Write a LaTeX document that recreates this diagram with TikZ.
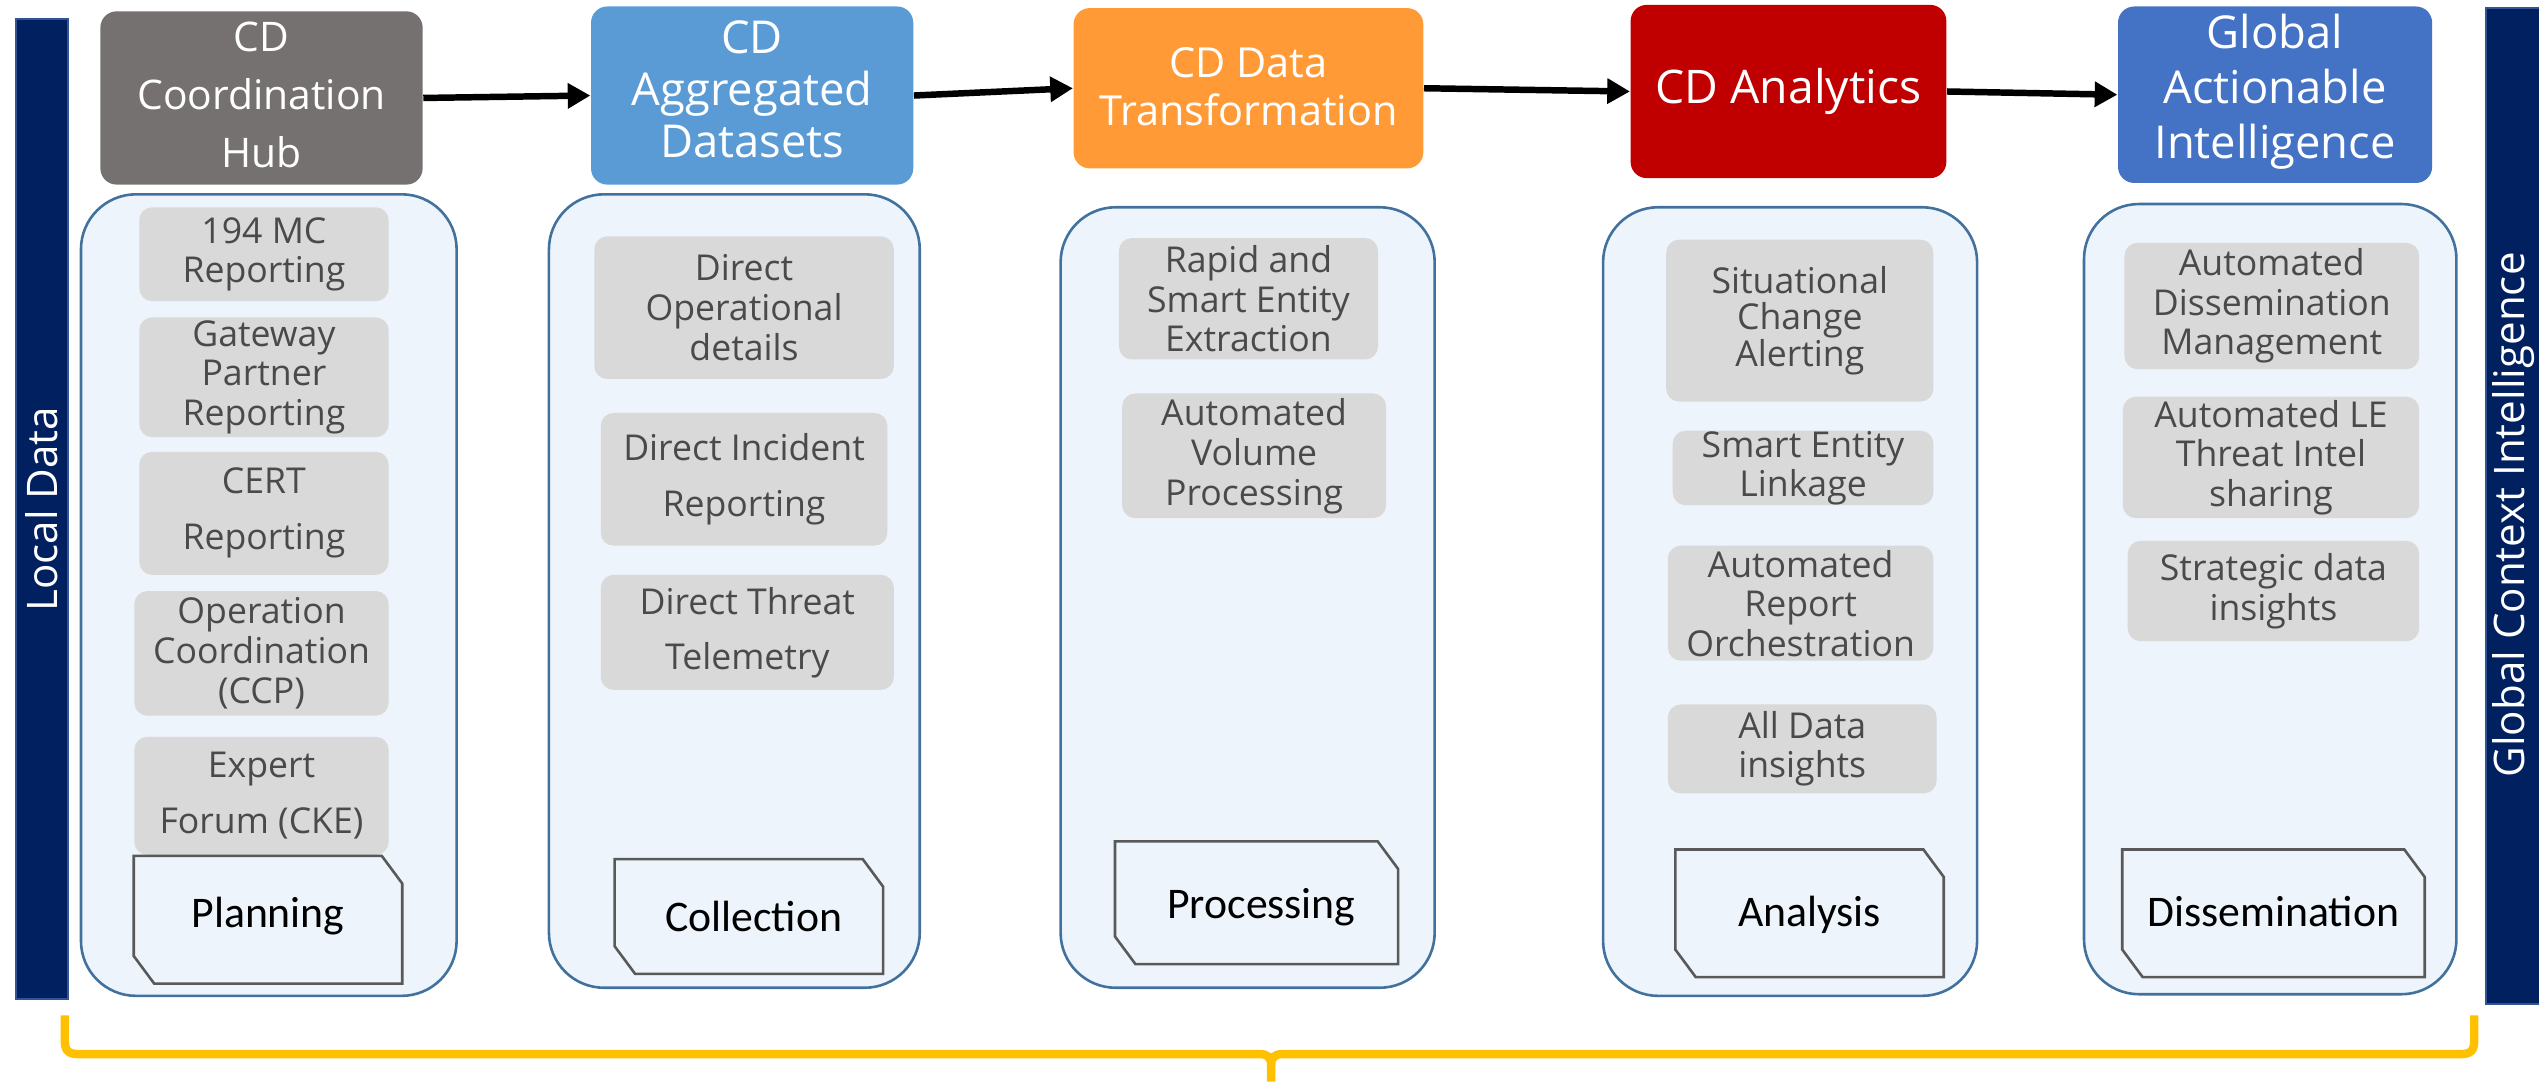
\documentclass[tikz,border=0pt]{standalone}
\usepackage{fontspec}
\setmainfont{Open Sans}
\newfontfamily\calib{Carlito}
\usetikzlibrary{fit,arrows.meta}
\definecolor{navy}{HTML}{002060}
\definecolor{navyedge}{HTML}{2F5597}
\definecolor{hubgray}{HTML}{767171}
\definecolor{aggblue}{HTML}{5B9BD5}
\definecolor{transorange}{HTML}{FF9A36}
\definecolor{anared}{HTML}{C00000}
\definecolor{globblue}{HTML}{4472C4}
\definecolor{contfill}{HTML}{EDF4FB}
\definecolor{contedge}{HTML}{41719C}
\definecolor{gboxfill}{HTML}{D9D9D9}
\definecolor{gtext}{HTML}{4A4A4A}
\definecolor{lbledge}{HTML}{595959}
\definecolor{braceyellow}{HTML}{FFC000}
\begin{document}
\begin{tikzpicture}[x=0.5pt,y=-0.5pt,
  sidebar/.style={fill=navy,draw=navyedge,line width=0.6pt,inner sep=0pt},
  sidetext/.style={rotate=90,text=white,font=\fontsize{13}{15}\selectfont},
  hdrbox/.style={fill=#1,rounded corners=5pt,inner sep=0pt},
  hdrtext/.style={text=white,align=center,inner sep=0pt},
  cont/.style={draw=contedge,fill=contfill,line width=0.8pt,rounded corners=17pt,inner sep=0pt},
  gbox/.style={fill=gboxfill,rounded corners=4pt,inner sep=0pt},
  gtxt/.style={text=gtext,align=center,inner sep=0pt,font=\fontsize{11}{#1}\selectfont},
  gtxt/.default=12.2,
  lblbox/.style={inner sep=0pt},
  lbledge/.style={draw=lbledge,fill=contfill,line width=0.8pt},
  lbltext/.style={inner sep=0pt,font=\calib\fontsize{13.5}{16}\selectfont},
  flow/.style={line width=2pt,-{Triangle[length=7pt,width=7.5pt]}}
]
\useasboundingbox (0,0) rectangle (1568,668);

% side bars
\node[sidebar,fit={(10,12) (42,617)}] (lbar) {};
\node[sidetext] (ltext) at (lbar.center) {Local Data};
\node[sidebar,fit={(1535,5) (1570,620)}] (rbar) {};
\node[sidetext] (rtext) at (1552,318) {Global Context Intelligence};

% header boxes
\node[hdrbox=hubgray,fit={(62,7) (261,114)}] (h1) {};
\node[hdrtext,font=\fontsize{12.6}{18}\selectfont] (h1t) at ([yshift=1pt]h1.center) {CD\\Coordination\\Hub};
\node[hdrbox=aggblue,fit={(365,4) (564,114)}] (h2) {};
\node[hdrtext,font=\fontsize{14}{16}\selectfont] (h2t) at ([yshift=2pt]h2.center) {CD\\Aggregated\\Datasets};
\node[hdrbox=transorange,fit={(663,5) (879,104)}] (h3) {};
\node[hdrtext,font=\fontsize{12.8}{15}\selectfont] (h3t) at ([yshift=0.5pt]h3.center) {CD Data\\Transformation};
\node[hdrbox=anared,fit={(1007,3) (1202,110)}] (h4) {};
\node[hdrtext,font=\fontsize{14.3}{16}\selectfont] (h4t) at (h4.center) {CD Analytics};
\node[hdrbox=globblue,fit={(1308,4) (1502,113)}] (h5) {};
\node[hdrtext,font=\fontsize{14}{17}\selectfont] (h5t) at ([yshift=1pt]h5.center) {Global\\Actionable\\Intelligence};

\draw[flow] (h1.east) -- (h2.west);
\draw[flow] (h2.east) -- (h3.west);
\draw[flow] (h3.east) -- (h4.west);
\draw[flow] (h4.east) -- (h5.west);

% containers
\node[cont,fit={(50,120) (282,615)}] (c1) {};
\node[cont,fit={(339,120) (568,610)}] (c2) {};
\node[cont,fit={(655,128) (886,610)}] (c3) {};
\node[cont,fit={(990,128) (1221,615)}] (c4) {};
\node[cont,fit={(1287,126) (1517,614)}] (c5) {};

% column 1
\node[gbox,fit={(86,128) (240,186)}] (a1) {};
\node[gtxt] at (a1.center) {194 MC\\Reporting};
\node[gbox,fit={(86,196) (240,270)}] (a2) {};
\node[gtxt] at (a2.center) {Gateway\\Partner\\Reporting};
\node[gbox,fit={(86,279) (240,355)}] (a3) {};
\node[gtxt=17.3] at (a3.center) {CERT\\Reporting};
\node[gbox,fit={(83,365) (240,442)}] (a4) {};
\node[gtxt=12.4] at (a4.center) {Operation\\Coordination\\(CCP)};
\node[gbox,fit={(83,455) (240,528)}] (a5) {};
\node[gtxt=17.3] at (a5.center) {Expert\\Forum (CKE)};

% column 2
\node[gbox,fit={(367,146) (552,234)}] (b1) {};
\node[gtxt=12.35] at (b1.center) {Direct\\Operational\\details};
\node[gbox,fit={(371,255) (548,337)}] (b2) {};
\node[gtxt=17.5] at (b2.center) {Direct Incident\\Reporting};
\node[gbox,fit={(371,355) (552,426)}] (b3) {};
\node[gtxt=17] at (b3.center) {Direct Threat\\Telemetry};

% column 3
\node[gbox,fit={(691,147) (851,222)}] (d1) {};
\node[gtxt=12.1] at (d1.center) {Rapid and\\Smart Entity\\Extraction};
\node[gbox,fit={(693,243) (856,320)}] (d2) {};
\node[gtxt=12.35] at (d2.center) {Automated\\Volume\\Processing};

% column 4
\node[gbox,fit={(1029,148) (1194,248)}] (e1) {};
\node[gtxt=11.3] at (e1.center) {Situational\\Change\\Alerting};
\node[gbox,fit={(1033,266) (1194,312)}] (e2) {};
\node[gtxt=10.8] at (e2.center) {Smart Entity\\Linkage};
\node[gbox,fit={(1030,337) (1194,408)}] (e3) {};
\node[gtxt] at (e3.center) {Automated\\Report\\Orchestration};
\node[gbox,fit={(1030,435) (1196,490)}] (e4) {};
\node[gtxt] at (e4.center) {All Data\\insights};

% column 5
\node[gbox,fit={(1312,150) (1494,228)}] (f1) {};
\node[gtxt] at (f1.center) {Automated\\Dissemination\\Management};
\node[gbox,fit={(1311,245) (1494,320)}] (f2) {};
\node[gtxt] at (f2.center) {Automated LE\\Threat Intel\\sharing};
\node[gbox,fit={(1314,334) (1494,396)}] (f3) {};
\node[gtxt] at (f3.center) {Strategic data\\insights};

% stage labels (snipped corner boxes)
\foreach \n/\xa/\ya/\xb/\yb/\dx/\dy/\t in {
  l1/83/529/248/607/0/-2/Planning,
  l2/380/531/545/601/3/0/Collection,
  l3/689/520/863/595/3/3/Processing,
  l4/1035/525/1200/603/0/1/Analysis,
  l5/1311/525/1497/603/0/-1/Dissemination}{
  \node[lblbox,fit={(\xa,\ya) (\xb,\yb)}] (\n) {};
  \draw[lbledge] (\n.north west) -- ([xshift=-6.3pt]\n.north east) -- ([yshift=-8.5pt]\n.north east)
    -- (\n.south east) -- ([xshift=6.3pt]\n.south west) -- ([yshift=8.5pt]\n.south west) -- cycle;
  \node[lbltext] at ([xshift=\dx*0.5pt,yshift=-\dy*0.5pt]\n.center) {\t};
}

% brace
\coordinate (bl) at (40,627);
\coordinate (br) at (1528,627);
\coordinate (btip) at (785,668);
\draw[braceyellow,line width=2.6pt]
  (bl) -- (40,642) .. controls (40,649) and (42,651) .. (49,651)
  -- (778,651) .. controls (783,651) and (785,653) .. (785,658) -- (btip);
\draw[braceyellow,line width=2.6pt]
  (br) -- (1528,642) .. controls (1528,649) and (1526,651) .. (1519,651)
  -- (792,651) .. controls (787,651) and (785,653) .. (785,658);
\end{tikzpicture}
\end{document}
